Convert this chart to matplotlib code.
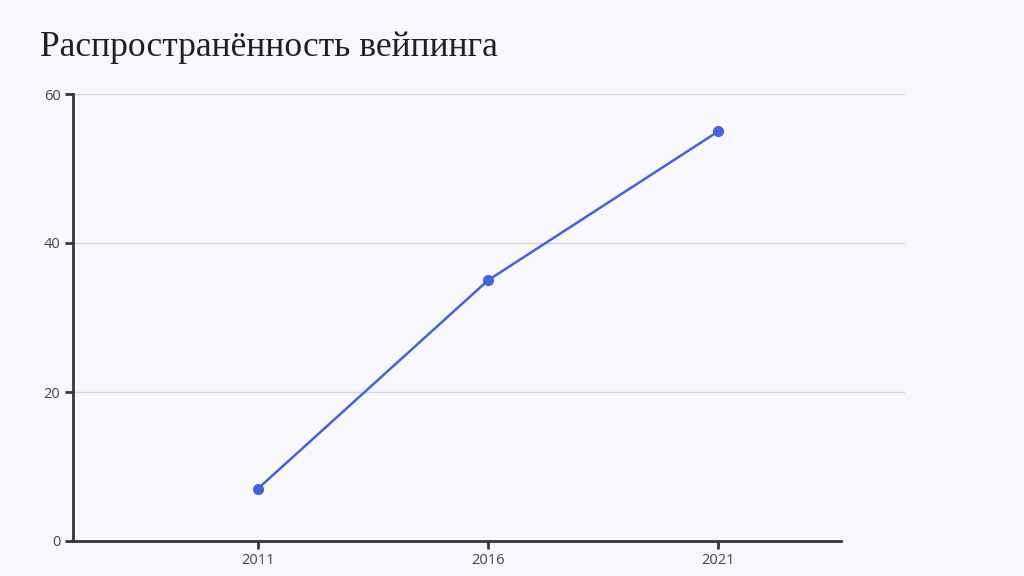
import matplotlib
matplotlib.use("Agg")
import matplotlib.pyplot as plt

years = [2011, 2016, 2021]
values = [7, 35, 55]
y_ticks = [0, 20, 40, 60]

bg = '#f8f8fc'
fig = plt.figure(figsize=(10.24, 5.76), dpi=100, facecolor=bg)
ax = fig.add_axes([73 / 1024, 1 - 541 / 576, (905 - 73) / 1024, (541 - 94) / 576])
ax.set_facecolor(bg)

ax.plot(years, values, color='#4363dd', linewidth=1.8, marker='o', markersize=7,
        zorder=3, clip_on=False)

ax.set_xlim(2006.99, 2025.05)
ax.set_ylim(0, 60)
ax.set_xticks(years)
ax.set_yticks(y_ticks)
# grid lines only above zero
for yv in y_ticks[1:]:
    ax.axhline(yv, color='#d6d6dc', linewidth=1, zorder=0)

for s in ['top', 'right']:
    ax.spines[s].set_visible(False)
for s in ['left', 'bottom']:
    ax.spines[s].set_color('#35353f')
    ax.spines[s].set_linewidth(2)
ax.spines['bottom'].set_bounds(2006.99, 2023.65)

ax.tick_params(colors='#35353f', labelcolor='#444444', length=6, width=2,
               labelsize=10.5, pad=3)
for lab in ax.get_xticklabels() + ax.get_yticklabels():
    lab.set_fontfamily('Open Sans')

fig.text(40 / 1024, 1 - 47 / 576, 'Распространённость вейпинга',
         fontsize=25.5, family='Liberation Serif', color='#1e1e24', va='center')

fig.savefig('out.png', dpi=100, facecolor=bg)
